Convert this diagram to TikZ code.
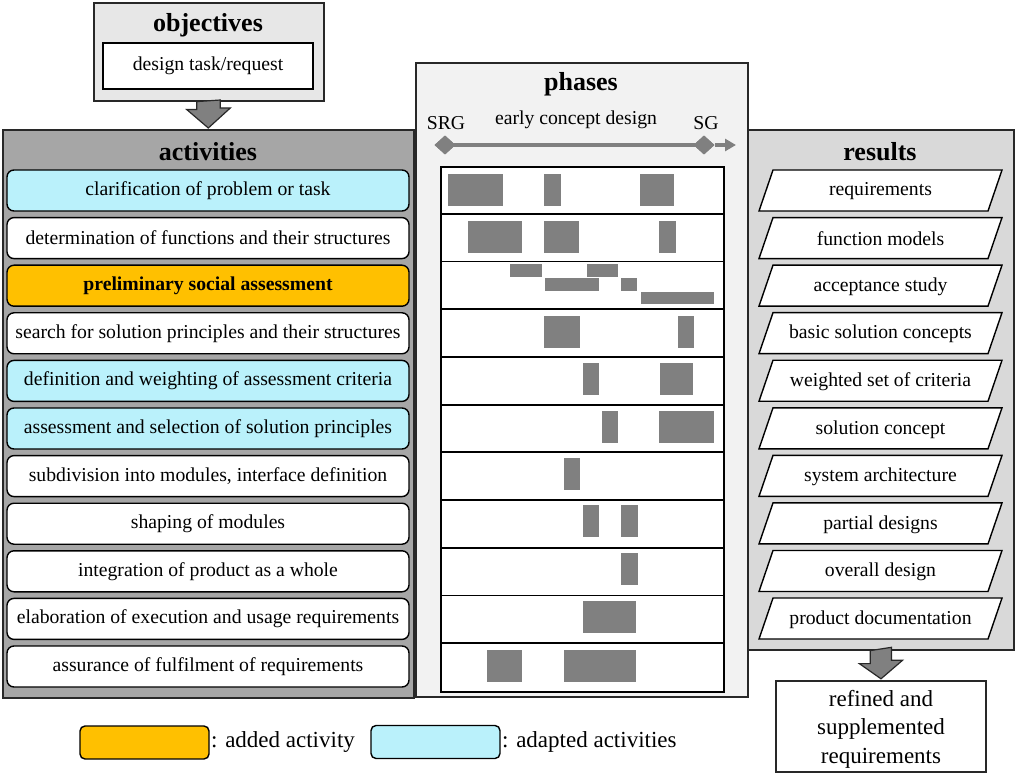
\documentclass[tikz,border=0pt]{standalone}
\usepackage{fontspec}
\setmainfont{Liberation Serif}
\usetikzlibrary{shapes.geometric,arrows.meta,calc}
\definecolor{cyanact}{RGB}{186,241,251}
\definecolor{orangeact}{RGB}{255,192,0}
\definecolor{actgray}{RGB}{166,166,166}
\definecolor{phgray}{RGB}{242,242,242}
\definecolor{resgray}{RGB}{217,217,217}
\definecolor{objgray}{RGB}{231,231,231}
\definecolor{bargray}{RGB}{128,128,128}
\definecolor{edge}{RGB}{40,40,40}
\tikzset{
  txt/.style={font=\fontsize{19.7}{23}\selectfont},
  bigtxt/.style={font=\fontsize{23}{28.5}\selectfont},
  ttl/.style={font=\fontsize{26}{30}\selectfont\bfseries},
  panel/.style={draw=edge, line width=1.6pt, anchor=north west, inner sep=0pt},
  actbox/.style={txt, draw=black, line width=1.4pt, rounded corners=7pt, fill=white,
    minimum width=402pt, minimum height=41pt, inner sep=0pt},
  legbox/.style={draw=black, line width=1.4pt, rounded corners=5pt, minimum width=129pt,
    minimum height=33pt, inner sep=0pt},
  bar/.style={fill=bargray},
  barrow/.style={fill=bargray, draw=edge, line width=1.2pt},
  ms/.style={diamond, fill=bargray, minimum width=21pt, minimum height=19pt, inner sep=0pt},
}
\begin{document}
\begin{tikzpicture}[x=1pt,y=-1pt]
\useasboundingbox (0,0) rectangle (1017,775);

% ---------- objectives ----------
\node[panel, fill=objgray, minimum width=230pt, minimum height=98pt] (obj) at (93,2) {};
\node[ttl] (objt) at (208,25) {objectives};
\node[txt, draw=black, line width=1.4pt, fill=white, minimum width=210pt, minimum height=46pt, inner sep=0pt] (task) at (208,66) {design task/request};

% ---------- activities ----------
\node[panel, fill=actgray, minimum width=411pt, minimum height=568pt] (act) at (2,129) {};
\node[ttl] (actt) at (208,152) {activities};
\foreach \t/\c/\f [count=\i] in {
  clarification of problem or task/cyanact/,
  determination of functions and their structures/white/,
  preliminary social assessment/orangeact/\bfseries,
  search for solution principles and their structures/white/,
  definition and weighting of assessment criteria/cyanact/,
  assessment and selection of solution principles/cyanact/,
  {subdivision into modules, interface definition}/white/,
  shaping of modules/white/,
  integration of product as a whole/white/,
  elaboration of execution and usage requirements/white/,
  assurance of fulfilment of requirements/white/}{
  \pgfmathsetmacro\yy{190.5+(\i-1)*47.6}
  \node[actbox, fill=\c] (a\i) at (208,\yy) {\f\t};
}

% ---------- phases ----------
\node[panel, fill=phgray, minimum width=332pt, minimum height=634pt] (ph) at (415,62) {};
\node[ttl] (pht) at (581,84) {phases};
\node[txt] (srgt) at (446,123) {SRG};
\node[txt] (ecd) at (576,120) {early concept design};
\node[txt] (sgt) at (706,123) {SG};
\node[ms] (srg) at (445,145) {};
\node[ms] (sg) at (704,145) {};
\coordinate (phend) at (736,145);
\draw[bargray, line width=4.5pt] (srg.center) -- (sg.center);
\draw[bargray, line width=4.5pt, -{Triangle[length=11pt,width=12pt]}] (sg.east) -- (phend);
\node[ms] at (445,145) {};
\node[ms] at (704,145) {};

% table
\node[draw=black, line width=1.8pt, fill=white, anchor=north west, minimum width=283pt, minimum height=525pt, inner sep=0pt] (tab) at (440,166) {};
\foreach \k in {1,...,10}{
  \draw[black, line width=1.8pt] (440,166+\k*47.73) -- (723,166+\k*47.73);
}
% bars
\fill[bar] (448,174) rectangle (503,206);
\fill[bar] (544,174) rectangle (561,206);
\fill[bar] (640,174) rectangle (674,206);
\fill[bar] (468,221) rectangle (522,253);
\fill[bar] (544,221) rectangle (579,253);
\fill[bar] (659,221) rectangle (676,253);
\fill[bar] (510,264) rectangle (542,277);
\fill[bar] (587,264) rectangle (618,277);
\fill[bar] (545,278) rectangle (599,291);
\fill[bar] (621,278) rectangle (637,291);
\fill[bar] (641,292) rectangle (714,304);
\fill[bar] (544,316) rectangle (580,348);
\fill[bar] (678,316) rectangle (694,348);
\fill[bar] (583,363) rectangle (599,395);
\fill[bar] (660,363) rectangle (693,395);
\fill[bar] (602,411) rectangle (618,443);
\fill[bar] (659,411) rectangle (714,443);
\fill[bar] (564,458) rectangle (580,490);
\fill[bar] (583,505) rectangle (599,537);
\fill[bar] (621,505) rectangle (638,537);
\fill[bar] (621,553) rectangle (638,585);
\fill[bar] (583,601) rectangle (636,633);
\fill[bar] (487,650) rectangle (522,682);
\fill[bar] (564,650) rectangle (636,682);

% ---------- results ----------
\node[panel, fill=resgray, minimum width=266pt, minimum height=520pt] (res) at (747,129) {};
\node[ttl] (rest) at (880,152) {results};
\foreach \t [count=\i] in {requirements, function models, acceptance study,
  basic solution concepts, weighted set of criteria, solution concept,
  system architecture, partial designs, overall design, product documentation}{
  \pgfmathsetmacro\yy{190.5+(\i-1)*47.56}
  \draw[black, line width=1.4pt, fill=white] (759,\yy+20.5) -- (988,\yy+20.5) -- (1002,\yy-20.5) -- (773,\yy-20.5) -- cycle;
  \node[txt] (r\i) at (880.5,\yy+1) {\t};
}

% refined box
\node[draw=edge, line width=1.4pt, fill=white, minimum width=210pt, minimum height=91pt, inner sep=0pt] (ref) at (881,726.5) {};
\node[bigtxt, align=center, inner sep=0pt] (reft) at (881,729) {refined and\\supplemented\\requirements};

% ---------- block arrows ----------
\draw[barrow] ([xshift=-12pt]obj.south) -- ++(0,8) -- ++(-10,0) -- ([yshift=1pt]act.north) -- ++(22,-20) -- ++(-10,0) -- ++(0,-8) -- cycle;
\draw[barrow] ([xshift=-10.5pt]res.south) -- ++(0,13) -- ++(-11,0) -- ([yshift=1.5pt]ref.north) -- ++(21.5,-18.5) -- ++(-11,0) -- ++(0,-13) -- cycle;

% ---------- legend ----------
\node[legbox, fill=orangeact] (lo) at (144.5,742.5) {};
\node[bigtxt, anchor=west, inner sep=0pt] (lot) at (211,742) {: added activity};
\node[legbox, fill=cyanact] (lc) at (435.5,742) {};
\node[bigtxt, anchor=west, inner sep=0pt] (lct) at (502,742) {: adapted activities};
\end{tikzpicture}
\end{document}
